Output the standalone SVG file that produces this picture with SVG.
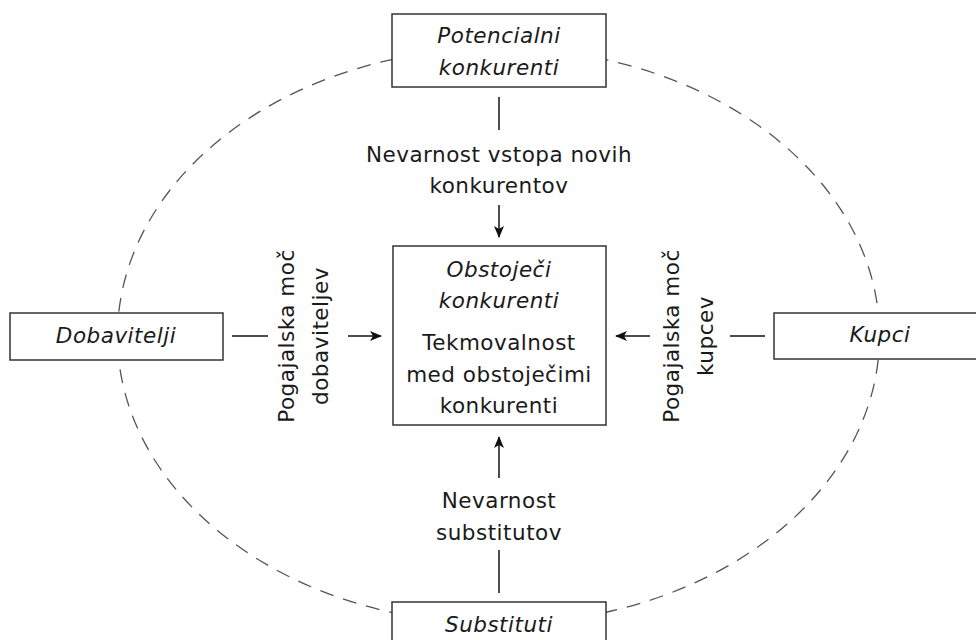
<svg xmlns="http://www.w3.org/2000/svg" width="976" height="640" viewBox="0 0 976 640">
<style>
.box{fill:#fff;stroke:#333;stroke-width:1.5}
.t{font-family:"DejaVu Sans","Open Sans",sans-serif;font-size:21.5px;letter-spacing:0.5px;fill:#1a1a1a;text-anchor:middle}
.i{font-style:italic}
.ln{stroke:#111;stroke-width:1.5;fill:none}
.ell{fill:none;stroke:#555;stroke-width:1.3;stroke-dasharray:14 10}
</style>
<defs>
<marker id="ah" viewBox="0 0 12 10" refX="11" refY="5" markerWidth="12" markerHeight="10" markerUnits="userSpaceOnUse" orient="auto">
<path d="M0,0 L12,5 L0,10 L3,5 Z" fill="#111"/>
</marker>
</defs>
<rect width="976" height="640" fill="#fff"/>
<ellipse class="ell" cx="498.5" cy="336" rx="381" ry="288"/>
<g id="connectors">
<line class="ln" x1="499" y1="97" x2="499" y2="130"/>
<line class="ln" x1="499" y1="205" x2="499" y2="237" marker-end="url(#ah)"/>
<line class="ln" x1="499" y1="593" x2="499" y2="550"/>
<line class="ln" x1="499" y1="478" x2="499" y2="437" marker-end="url(#ah)"/>
<line class="ln" x1="232" y1="336" x2="268" y2="336"/>
<line class="ln" x1="348" y1="336" x2="381" y2="336" marker-end="url(#ah)"/>
<line class="ln" x1="765" y1="336" x2="730" y2="336"/>
<line class="ln" x1="650" y1="336" x2="616" y2="336" marker-end="url(#ah)"/>
<text class="t" x="499" y="162">Nevarnost vstopa novih</text>
<text class="t" x="499" y="193">konkurentov</text>
<text class="t" x="499" y="508">Nevarnost</text>
<text class="t" x="499" y="540">substitutov</text>
<text class="t" transform="translate(294,336) rotate(-90)">Pogajalska moč</text>
<text class="t" transform="translate(328,336) rotate(-90)">dobaviteljev</text>
<text class="t" transform="translate(679,336) rotate(-90)">Pogajalska moč</text>
<text class="t" transform="translate(713,336) rotate(-90)">kupcev</text>
</g>
<g id="potencialni">
<rect class="box" x="392" y="14" width="214" height="73"/>
<text class="t i" x="499" y="43">Potencialni</text>
<text class="t i" x="499" y="75">konkurenti</text>
</g>
<g id="obstojeci">
<rect class="box" x="393" y="246" width="213" height="179"/>
<text class="t i" x="499" y="277">Obstoječi</text>
<text class="t i" x="499" y="308">konkurenti</text>
<text class="t" x="499" y="350">Tekmovalnost</text>
<text class="t" x="499" y="382">med obstoječimi</text>
<text class="t" x="499" y="413">konkurenti</text>
</g>
<g id="dobavitelji">
<rect class="box" x="10" y="313" width="213" height="47"/>
<text class="t i" x="116" y="343">Dobavitelji</text>
</g>
<g id="kupci">
<rect class="box" x="774" y="313" width="214" height="46"/>
<text class="t i" x="880" y="342">Kupci</text>
</g>
<g id="substituti">
<rect class="box" x="392" y="602" width="214" height="50"/>
<text class="t i" x="499" y="632">Substituti</text>
</g>
</svg>
